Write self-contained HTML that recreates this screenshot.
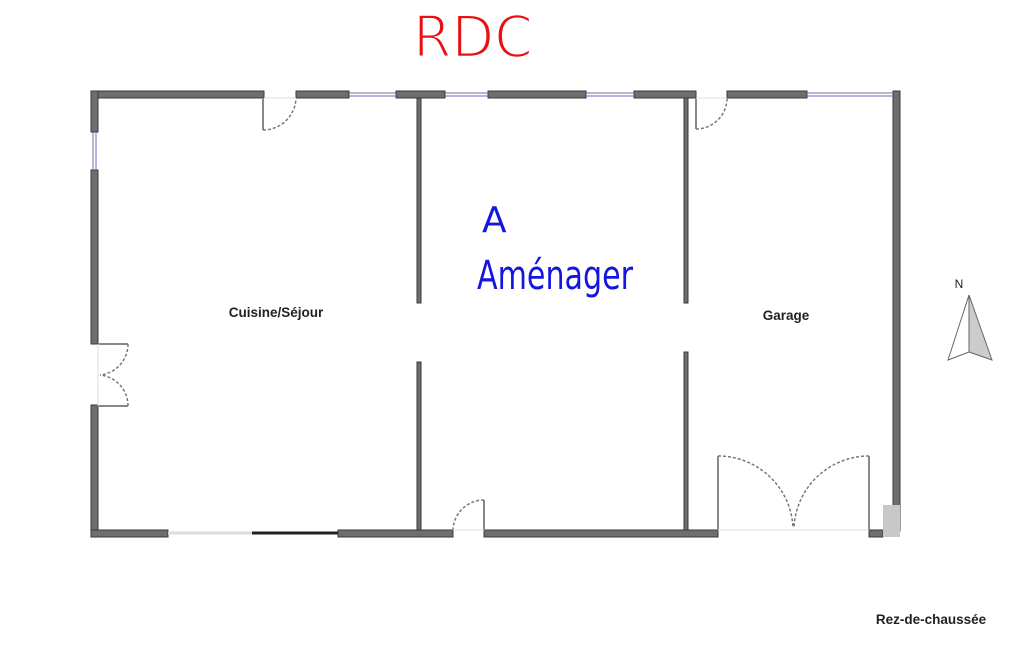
<!DOCTYPE html>
<html><head><meta charset="utf-8"><style>
html,body{margin:0;padding:0;background:#fff;}
svg{display:block;}
</style></head><body>
<svg width="1025" height="650" viewBox="0 0 1025 650" xmlns="http://www.w3.org/2000/svg" font-family="Liberation Sans, sans-serif">
<g fill="#6e6e6e" stroke="#3a3a3a" stroke-width="1">
<rect x="91" y="91" width="173" height="7"/>
<rect x="296" y="91" width="53" height="7"/>
<rect x="396" y="91" width="49" height="7"/>
<rect x="488" y="91" width="98" height="7"/>
<rect x="634" y="91" width="62" height="7"/>
<rect x="727" y="91" width="80" height="7"/>
<rect x="893" y="91" width="7" height="440"/>
<rect x="91" y="91" width="7" height="41"/>
<rect x="91" y="170" width="7" height="174"/>
<rect x="91" y="405" width="7" height="132"/>
<rect x="91" y="530" width="77" height="7"/>
<rect x="338" y="530" width="115" height="7"/>
<rect x="484" y="530" width="234" height="7"/>
<rect x="869" y="530" width="14" height="7"/>
<rect x="417" y="98" width="4" height="205"/>
<rect x="417" y="362" width="4" height="168"/>
<rect x="684" y="98" width="4" height="205"/>
<rect x="684" y="352" width="4" height="178"/>
</g>
<rect x="883" y="505" width="17" height="32" fill="#c8c8c8"/>
<g stroke="#6b6bb8" stroke-width="1" fill="none">
<path d="M349 93H396M349 96H396M445 93H488M445 96H488M586 93H634M586 96H634M807 93H893M807 96H893"/>
<path d="M93 132V170M96 132V170"/>
</g>
<path d="M168 533H252" stroke="#ddd" stroke-width="3"/>
<path d="M252 533H338" stroke="#222" stroke-width="3"/>
<g stroke="#888" stroke-width="2" fill="none">
<path d="M263 98V130M696 98V129M484 500V530M718 456V530M869 456V530M98 344H128M98 406H128"/>
</g>
<g stroke="#777" stroke-width="1.5" fill="none" stroke-dasharray="3,2">
<path d="M263 130A33 33 0 0 0 296 98"/>
<path d="M696 129A31 31 0 0 0 727 98"/>
<path d="M484 500A31 31 0 0 0 453 530"/>
<path d="M718 456A75 75 0 0 1 793 528"/>
<path d="M869 456A75 75 0 0 0 794 528"/>
<path d="M128 344A31 31 0 0 1 100 375"/>
<path d="M128 406A31 31 0 0 0 100 375"/>
</g>
<g stroke="#ddd" stroke-width="1">
<path d="M264 98H296M696 98H727M453 530H484M718 530H869M98 344V406"/>
</g>
<g font-weight="bold" font-size="13.5" fill="#222" text-anchor="middle">
<text x="276" y="317">Cuisine/Séjour</text>
<text x="786" y="320">Garage</text>
<text x="931" y="624">Rez-de-chaussée</text>
<text x="959" y="288" font-weight="normal" font-size="12">N</text>
</g>
<polygon points="969,295 948,360 969,352" fill="#fff" stroke="#666"/>
<polygon points="969,295 992,360 969,352" fill="#ccc" stroke="#666"/>
<text x="413" y="57" font-size="58" fill="#e81010" stroke="#fff" stroke-width="2.5" textLength="120" lengthAdjust="spacingAndGlyphs" font-family="DejaVu Sans, sans-serif">RDC</text>
<text x="482" y="232" font-size="36" fill="#1515e0" font-family="DejaVu Sans, sans-serif">A</text>
<text x="477" y="289" font-size="40" fill="#1515e0" textLength="156" lengthAdjust="spacingAndGlyphs" font-family="DejaVu Sans, sans-serif">Aménager</text>
</svg>
</body></html>
